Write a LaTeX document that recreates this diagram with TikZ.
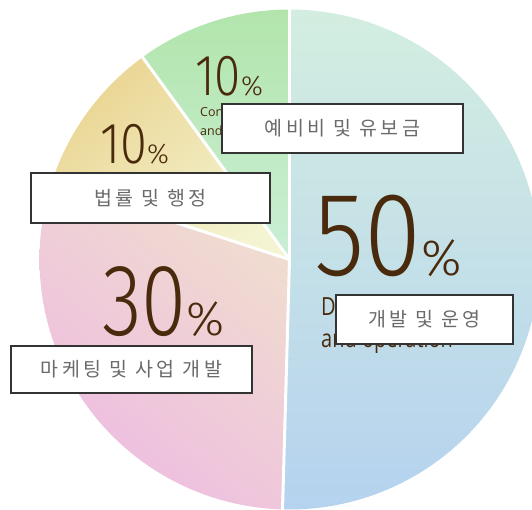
\documentclass[tikz,border=0pt]{standalone}
\usepackage{fontspec}
\usepackage{graphicx}
\newfontfamily\numfont{Fira Sans Light}
\newfontfamily\kfont{Noto Sans CJK KR}
\newfontfamily\engfont{Open Sans}
\newcommand\kk{\kern3.5pt}
\definecolor{brownT}{HTML}{4A2A0C}
\definecolor{kgray}{HTML}{6A6A6A}
\definecolor{boxline}{HTML}{333333}
\definecolor{mintT}{HTML}{D3EEE0}
\definecolor{blueB}{HTML}{B5D2EF}
\definecolor{pinkL}{HTML}{F0DDCF}
\definecolor{pinkD}{HTML}{EEBCE1}
\definecolor{yelD}{HTML}{EAD592}
\definecolor{yelL}{HTML}{F4F4D2}
\definecolor{grnT}{HTML}{B2E5AC}
\definecolor{grnB}{HTML}{CBEFD6}
\newcommand\bigpct[5]{{\numfont\fontsize{#1}{#1}\selectfont\scalebox{#5}[1]{#2}}{\numfont\fontsize{#3}{#3}\selectfont #4}}
\tikzset{
  kbox/.style={draw=boxline, line width=2pt, fill=white, inner sep=0pt, font=\kfont\fontsize{19.5}{19.5}\selectfont, text=kgray},
  pctnode/.style={anchor=base west, inner sep=0pt, text=brownT},
  smalltxt/.style={anchor=base west, inner sep=0pt, text=brownT, font=\engfont\fontsize{12.5}{12.5}\selectfont},
  sepline/.style={white, line width=3pt}
}
\begin{document}
\begin{tikzpicture}[x=1pt,y=-1pt]
\useasboundingbox (0,0) rectangle (532,509);
\clip (0,0) rectangle (532,509);
\coordinate (c) at (289.5,259.5);
% blue / right half
\begin{scope}
\clip (c) -- ++(-90:250) arc[start angle=-90,end angle=91.6,radius=250] -- cycle;
\shade[top color=mintT, bottom color=blueB] (280,9) rectangle (540,510);
\end{scope}
% pink
\begin{scope}
\clip (c) -- ++(91.6:250) arc[start angle=91.6,end angle=198,radius=250] -- cycle;
\shade[top color=pinkL, bottom color=pinkD, shading angle=-40] (39,180) rectangle (292,510);
\end{scope}
% yellow
\begin{scope}
\clip (c) -- ++(198:250) arc[start angle=198,end angle=234,radius=250] -- cycle;
\shade[top color=yelD, bottom color=yelL, shading angle=40] (48,55) rectangle (292,262);
\end{scope}
% green
\begin{scope}
\clip (c) -- ++(234:250) arc[start angle=234,end angle=270,radius=250] -- cycle;
\shade[top color=grnT, bottom color=grnB] (140,9) rectangle (292,262);
\end{scope}
% separators
\draw[sepline] (c) -- ++(-90:252);
\draw[sepline] (c) -- ++(91.6:252);
\draw[sepline] (c) -- ++(198:252);
\draw[sepline] (c) -- ++(234:252);
% percentages
\node[pctnode] (p10g) at (195,95) {\bigpct{58}{10}{27.6}{\%}{0.82}};
\node[pctnode] (p10y) at (100,163) {\bigpct{58}{10}{27.6}{\%}{0.84}};
\node[pctnode] (p30) at (102,335) {\bigpct{102}{30}{48}{\%}{0.8}};
\node[pctnode] (p50) at (314,275) {\bigpct{119}{50}{51}{\%}{0.87}};
% english texts
\node[smalltxt] (g1) at (200,116) {Contingency};
\node[smalltxt] (g2) at (200,135) {and reserve};
\node[anchor=base west, inner sep=0pt, text=brownT, font=\engfont\fontsize{25}{25}\selectfont] (d1) at (321,315) {\scalebox{0.8}[1]{Development}};
\node[anchor=base west, inner sep=0pt, text=brownT, font=\engfont\fontsize{25}{25}\selectfont] (d2) at (321,347) {\scalebox{0.8}[1]{and operation}};
% korean boxes
\node[kbox, minimum width=241pt, minimum height=49pt] (b1) at (342.5,128) {예\kk 비\kk 비\kk{} 및\kk{} 유\kk 보\kk 금};
\node[kbox, minimum width=239pt, minimum height=50pt] (b2) at (150.5,198) {법\kk 률\kk{} 및\kk{} 행\kk 정};
\node[kbox, minimum width=241pt, minimum height=47pt] (b3) at (131.5,369.5) {마\kk 케\kk 팅\kk{} 및\kk{} 사\kk 업\kk{} 개\kk 발};
\node[kbox, minimum width=177pt, minimum height=49pt] (b4) at (424.5,319.5) {개\kk 발\kk{} 및\kk{} 운\kk 영};
\end{tikzpicture}
\end{document}
